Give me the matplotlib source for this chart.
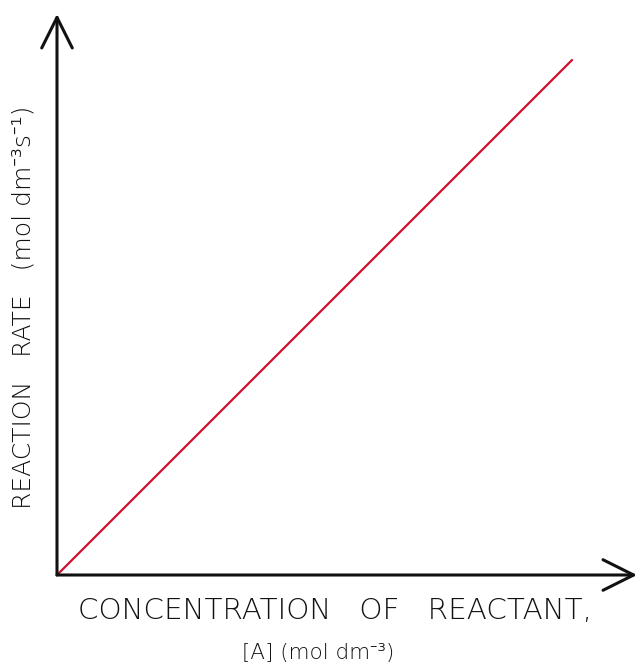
import numpy as np
import matplotlib.pyplot as plt

# reaction rate vs concentration: straight line through origin (first order)
conc = [0.0, 10.0]
rate = [0.0, 10.0]

x_label = "CONCENTRATION   OF   REACTANT,"
x_label2 = "[A] (mol dm\u207b\u00b3)"
y_label = "REACTION   RATE   (mol dm\u207b\u00b3s\u207b\u00b9)"

W, H = 639, 667
fig = plt.figure(figsize=(W / 100, H / 100), dpi=100)

# axes placed in pixel terms: origin at (57, 575), arrow tips at x=637 and y=14
x0, y0, x1, y1 = 57, 575, 637, 14
ax = fig.add_axes([x0 / W, (H - y0) / H, (x1 - x0) / W, (y0 - y1) / H])
ax.set_xlim(0, 10 / 0.888)
ax.set_ylim(0, 10 / 0.918)
for s in ax.spines.values():
    s.set_visible(False)
ax.set_xticks([])
ax.set_yticks([])

ax.plot(conc, rate, color="#d3102c", lw=1.6, solid_capstyle="round", clip_on=False)

# axes with open arrow heads
arr = dict(arrowstyle="->,head_length=1.1,head_width=0.55", lw=2.2, color="#111111",
           mutation_scale=20, shrinkA=0, shrinkB=0)
ax.annotate("", xy=(1, 0), xytext=(0, 0), xycoords="axes fraction", arrowprops=arr)
ax.annotate("", xy=(0, 1), xytext=(0, 0), xycoords="axes fraction", arrowprops=arr)

# light DejaVu lacks the superscript minus, so let it fall back
txt = dict(fontweight="light", color="#111111",
           family=["DejaVu Sans", "Noto Sans", "DejaVu Sans Mono"])
fig.text(335 / W, 1 - 611 / H, x_label, ha="center", va="center",
         fontsize=21.2, **txt)
fig.text(318 / W, 1 - 653 / H, x_label2, ha="center", va="center",
         fontsize=15.5, **txt)
fig.text(24 / W, 1 - 307 / H, y_label, ha="center", va="center", rotation=90,
         fontsize=18, **txt)

fig.savefig("out.png", dpi=100)
